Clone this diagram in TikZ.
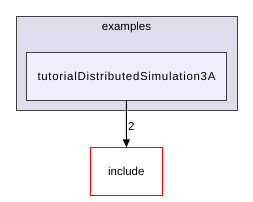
\documentclass[tikz,border=0pt]{standalone}
\usepackage{fontspec}
\setmainfont{Liberation Sans}
\usetikzlibrary{arrows.meta,positioning,fit}
\definecolor{clustcol}{HTML}{DDDDEE}
\definecolor{dircol}{HTML}{EEEEFF}
\definecolor{edgecol}{HTML}{404040}

\begin{document}
\begin{tikzpicture}[x=1pt, y=-1pt,
  clust/.style={draw=edgecol, fill=clustcol, line width=1pt},
  dir/.style={draw=edgecol, fill=dircol, line width=1pt,
              font=\fontsize{11.5}{13}\selectfont\addfontfeatures{LetterSpace=6},
              minimum width=200pt, minimum height=48pt, inner sep=0pt},
  extdir/.style={draw=red, fill=white, line width=0.8pt, font=\fontsize{11.5}{13}\selectfont,
              minimum width=72pt, minimum height=48pt, inner sep=0pt},
  lbl/.style={font=\fontsize{11.5}{13}\selectfont},
  arr/.style={-{Triangle[length=8pt,width=7pt]}, line width=0.9pt}]
  \useasboundingbox (0,0) rectangle (253,201);
  \node[clust, minimum width=221pt, minimum height=94pt, inner sep=0pt] (examples) at (126.5,63) {};
  \node[lbl] at (126.5,27.5) {examples};
  \node[dir] (tutorial) at (126.5,76) {tutorialDistributedSimulation3A};
  \node[extdir] (include) at (126.3,171.7) {include};
  \draw[arr] (tutorial) -- node[lbl, right=-2pt, pos=0.55]{2} (include);
\end{tikzpicture}
\end{document}
